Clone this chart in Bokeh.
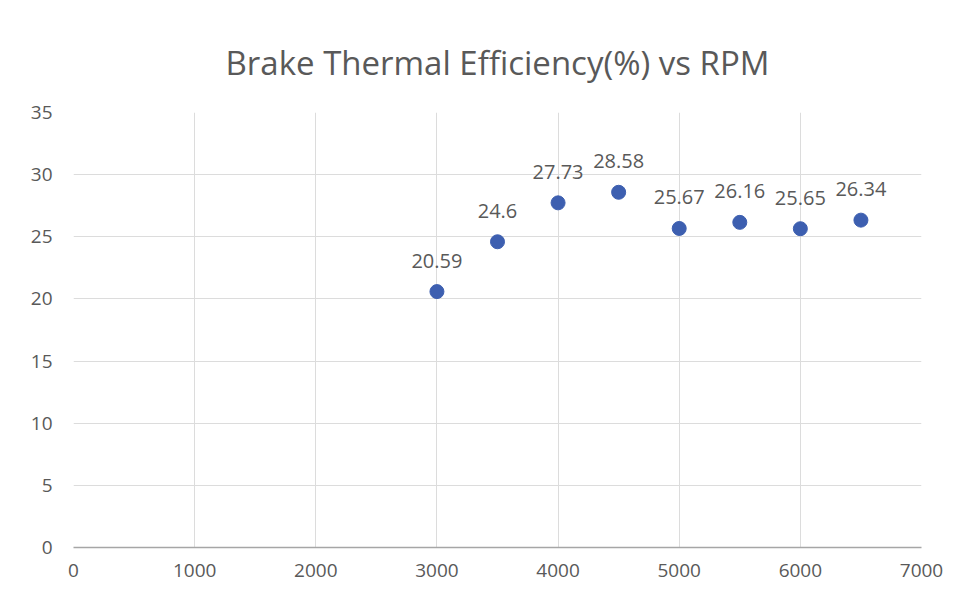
from bokeh.plotting import figure
from bokeh.models import ColumnDataSource, Range1d, SingleIntervalTicker, LabelSet
from bokeh.core.properties import value
from bokeh.embed import file_html
from bokeh.resources import INLINE

rpm = [3000, 3500, 4000, 4500, 5000, 5500, 6000, 6500]
bte = [20.59, 24.6, 27.73, 28.58, 25.67, 26.16, 25.65, 26.34]
labels = ["20.59", "24.6", "27.73", "28.58", "25.67", "26.16", "25.65", "26.34"]

FONT = "Open Sans"
TXT = "#595959"

src = ColumnDataSource(dict(x=rpm, y=bte, lab=labels))

p = figure(width=949, height=586, output_backend="svg", toolbar_location=None,
           x_range=Range1d(0, 7000), y_range=Range1d(0, 35),
           min_border_left=73, min_border_right=28, min_border_top=112, min_border_bottom=39,
           title="Brake Thermal Efficiency(%) vs RPM")

p.title.align = "center"
p.title.text_font = FONT
p.title.text_font_size = "33px"
p.title.text_font_style = "normal"
p.title.text_color = TXT
p.title.standoff = 56

p.outline_line_color = None
p.background_fill_color = "white"
p.border_fill_color = "white"

p.xaxis.ticker = SingleIntervalTicker(interval=1000)
p.yaxis.ticker = SingleIntervalTicker(interval=5)

for ax in (p.xaxis[0], p.yaxis[0]):
    ax.major_tick_line_color = None
    ax.minor_tick_line_color = None
    ax.major_tick_out = 0
    ax.major_tick_in = 0
    ax.major_label_text_font = FONT
    ax.major_label_text_font_size = "19px"
    ax.major_label_text_color = TXT

p.xaxis.axis_line_color = "#a6a6a6"
p.xaxis.axis_line_width = 1.5
p.yaxis.axis_line_color = None
p.xaxis.major_label_standoff = 12
p.yaxis.major_label_standoff = 17

p.xgrid.grid_line_color = "#dcdcdc"
p.ygrid.grid_line_color = "#dcdcdc"

p.scatter("x", "y", source=src, size=14, fill_color="#3d5fb0", line_color="#3d5fb0")

ls = LabelSet(x="x", y="y", text="lab", source=src, text_align="center",
              text_baseline="middle", y_offset=31, text_font_size="20px",
              text_color=TXT, text_font=value(FONT))
p.add_layout(ls)

open("out.html", "w").write(file_html(p, INLINE))
